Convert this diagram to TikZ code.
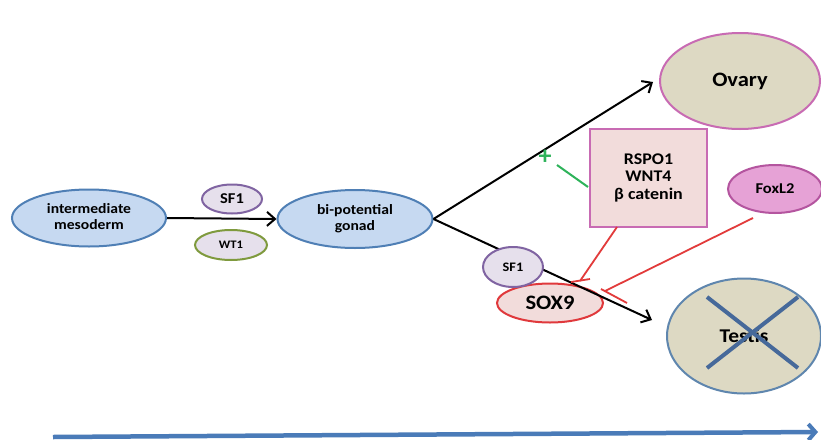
\documentclass[tikz,border=0pt]{standalone}
\usepackage{fontspec}
\setmainfont{Carlito}
\usepackage{graphicx}
\usetikzlibrary{arrows.meta,shapes.geometric}
\definecolor{bfill}{HTML}{C6D9F1}
\definecolor{bdraw}{HTML}{4F7FB5}
\definecolor{lav}{HTML}{E6E0EC}
\definecolor{purp}{HTML}{8064A2}
\definecolor{olive}{HTML}{7F9A3E}
\definecolor{tan}{HTML}{DDD9C3}
\definecolor{pinkdraw}{HTML}{C86BB3}
\definecolor{boxfill}{HTML}{F2DCDB}
\definecolor{foxfill}{HTML}{E6A2D6}
\definecolor{foxdraw}{HTML}{B4559F}
\definecolor{soxdraw}{HTML}{E0393C}
\definecolor{testdraw}{HTML}{5F86AE}
\definecolor{crossc}{HTML}{46699A}
\definecolor{inhib}{HTML}{E23B3B}
\definecolor{grn}{HTML}{2EB35A}
\definecolor{timec}{HTML}{4A7BB8}
\newcommand{\sx}[1]{\scalebox{1.1}[1]{#1}}
\newcommand{\two}[2]{\sx{\begin{tabular}{@{}c@{}}#1\\#2\end{tabular}}}
\newcommand{\three}[3]{\sx{\begin{tabular}{@{}c@{}}#1\\#2\\#3\end{tabular}}}
\begin{document}
\begin{tikzpicture}[x=1pt,y=-1pt,
  ell/.style={ellipse,inner sep=0pt,line width=2pt},
  flow/.style={line width=2pt,-{Straight Barb[length=8pt,width=14pt,line width=2pt]}},
  inhibline/.style={draw=inhib,line width=1.8pt},
  fsz/.style 2 args={font=\bfseries\fontsize{#1}{#2}\selectfont}]
\useasboundingbox[fill=white] (0,0) rectangle (821,439);

% main nodes
\node[ell,fill=bfill,draw=bdraw,minimum width=154pt,minimum height=57pt,fsz={14.2}{16.5}] (meso) at (89,218) {\two{intermediate}{mesoderm}};
\node[ell,fill=bfill,draw=bdraw,minimum width=155pt,minimum height=58pt,fsz={14.2}{16.5}] (gonad) at (355,219) {\two{bi-potential}{gonad}};
\node[ell,fill=lav,draw=purp,minimum width=60pt,minimum height=29pt,fsz={15}{17}] (sfa) at (232,199) {\sx{SF1}};
\node[ell,fill=lav,draw=olive,minimum width=72pt,minimum height=30pt,fsz={11.5}{13}] (wt) at (231,245) {\sx{WT1}};
\draw[flow] (meso.east) -- (gonad.west);

\node[ell,fill=tan,draw=pinkdraw,minimum width=160pt,minimum height=96pt,fsz={20.5}{23}] (ovary) at (740,81) {\sx{Ovary}};
\node[draw=pinkdraw,fill=boxfill,line width=1.8pt,minimum width=117pt,minimum height=98pt,inner sep=0pt,fsz={16.3}{17.5}] (box) at (648.5,178) {\three{RSPO1}{WNT4}{β catenin}};
\node[ell,fill=foxfill,draw=foxdraw,minimum width=94pt,minimum height=48pt,fsz={15}{17}] (fox) at (775,189) {\sx{FoxL2}};
\node[ell,fill=tan,draw=testdraw,minimum width=154pt,minimum height=115pt,fsz={19.5}{22}] (testis) at (744,336) {\sx{Testis}};
\draw[crossc,line width=4pt] (707,297) -- (798,368);
\draw[crossc,line width=4pt] (798,297) -- (707,368);

\node[ell,fill=boxfill,draw=soxdraw,minimum width=106pt,minimum height=39pt,fsz={20.5}{23}] (sox) at (550,303) {\sx{SOX9}};

% branching arrows
\coordinate (ovtip) at (653,82);
\coordinate (tetip) at (652,320);
\draw[flow] (gonad.east) -- (ovtip);
\draw[flow] (gonad.east) -- (tetip);

\node[ell,fill=lav,draw=purp,minimum width=60pt,minimum height=40pt,fsz={13}{15}] (sfb) at (513,267) {\sx{SF1}};

% activation (green)
\coordinate (gA) at (588,187);
\coordinate (gB) at (557,165);
\draw[grn,line width=2pt] (gA) -- (gB);
\node[text=grn,fsz={26}{28},inner sep=0pt] (plus) at (545,157) {+};

% inhibition (red)
\coordinate (r1s) at (617,227);
\coordinate (r1) at (580,281);
\coordinate (r1a) at (571,282);
\coordinate (r1b) at (590,279);
\draw[inhibline] (r1s) -- (r1);
\draw[inhibline] (r1a) -- (r1b);
\coordinate (r2s) at (753,218);
\coordinate (r2) at (605,291);
\coordinate (r2a) at (601,289);
\coordinate (r2b) at (627,303);
\draw[inhibline] (r2s) -- (r2);
\draw[inhibline] (r2a) -- (r2b);

% time arrow
\coordinate (t0) at (53,437);
\coordinate (t1) at (818,432);
\draw[timec,line width=4.5pt,-{Straight Barb[length=7pt,width=16pt,line width=4pt]}] (t0) -- (t1);
\end{tikzpicture}
\end{document}
